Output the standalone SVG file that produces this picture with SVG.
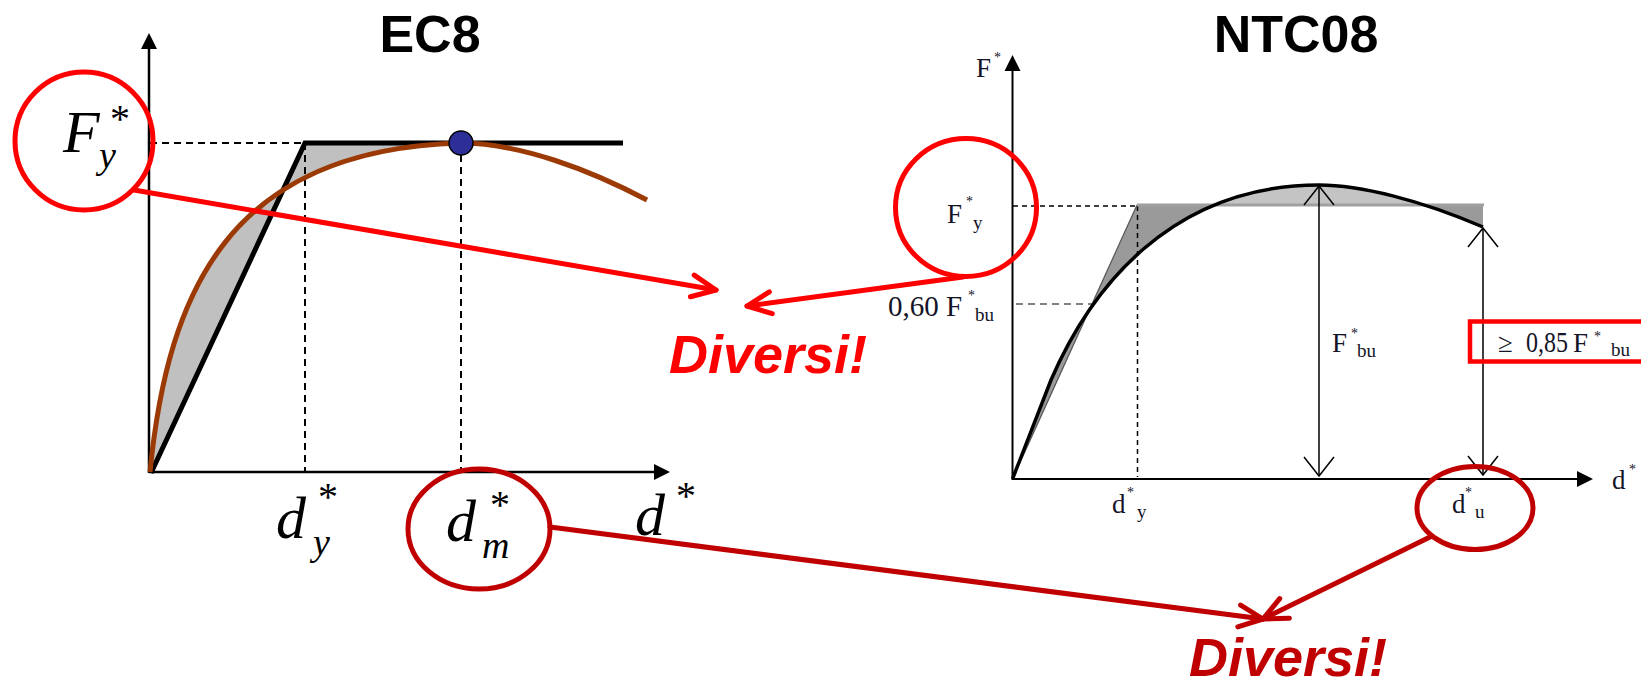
<svg xmlns="http://www.w3.org/2000/svg" width="1641" height="683" viewBox="0 0 1641 683">
<defs>
<style>
.title{font-family:"Liberation Sans",Arial,sans-serif;font-weight:bold;font-size:52px;fill:#000;text-anchor:middle}
.div{font-family:"Liberation Sans",Arial,sans-serif;font-weight:bold;font-style:italic;font-size:54px;text-anchor:middle}
.it{font-family:"Liberation Serif","Times New Roman",serif;font-style:italic;fill:#000}
.big{font-size:60px}
.sub{font-size:38px}
.st{font-family:"Liberation Serif","Times New Roman",serif;font-size:40px;fill:#000}
.ser{font-family:"Liberation Serif","Times New Roman",serif;fill:#141428}
.n{font-size:27px}
.nn{font-size:29px}
.s{font-size:19px}
.ss{font-size:14px}
.ax1{stroke:#000;stroke-width:2.5;fill:none}
.ax2{stroke:#000;stroke-width:2;fill:none}
.dash1{stroke:#000;stroke-width:2;stroke-dasharray:7 5;fill:none}
.dash2{stroke:#000;stroke-width:1.5;stroke-dasharray:5 4;fill:none}
.red{stroke:#ff0000;stroke-width:5;fill:none}
.dred{stroke:#c00000;stroke-width:5;fill:none}
.dim{stroke:#000;stroke-width:1.5;fill:none}
</style>
<marker id="tri" markerUnits="userSpaceOnUse" viewBox="-8 -10 20 20" markerWidth="20" markerHeight="20" refX="0" refY="0" orient="auto" overflow="visible">
<path d="M-6,-8 L10,0 L-6,8 Z" fill="#000"/>
</marker>
<marker id="vee" markerUnits="userSpaceOnUse" viewBox="-22 -18 24 36" markerWidth="24" markerHeight="36" refX="0" refY="0" orient="auto-start-reverse" overflow="visible">
<path d="M-19,-15 L0,0 L-19,15" fill="none" stroke="#000" stroke-width="1.5"/>
</marker>
<marker id="ah-red" markerUnits="userSpaceOnUse" viewBox="-30 -15 34 30" markerWidth="34" markerHeight="30" refX="0" refY="0" orient="auto" overflow="visible">
<path d="M-24,-11 L0,0 L-24,11" fill="none" stroke="#ff0000" stroke-width="5" stroke-linecap="round" stroke-linejoin="round"/>
</marker>
<marker id="ah-dred" markerUnits="userSpaceOnUse" viewBox="-30 -15 34 30" markerWidth="34" markerHeight="30" refX="0" refY="0" orient="auto" overflow="visible">
<path d="M-24,-11 L0,0 L-24,11" fill="none" stroke="#c00000" stroke-width="5" stroke-linecap="round" stroke-linejoin="round"/>
</marker>
<clipPath id="abovePlateau"><rect x="1000" y="150" width="500" height="55"/></clipPath>
</defs>
<rect width="1641" height="683" fill="#fff"/>

<g id="ec8-chart">
<text class="title" x="430" y="52">EC8</text>
<path d="M150,472 C168,290 230,150 460,143 L305,143 Z" fill="#c0c0c0"/>
<line class="dash1" x1="150" y1="143" x2="305" y2="143"/>
<line class="dash1" x1="305" y1="143" x2="305" y2="472"/>
<line class="dash1" x1="461" y1="143" x2="461" y2="472"/>
<line class="ax1" x1="149" y1="473" x2="149" y2="43" marker-end="url(#tri)"/>
<line class="ax1" x1="149" y1="472" x2="660" y2="472" marker-end="url(#tri)"/>
<path d="M151,473 L305,143 L623,143" fill="none" stroke="#000" stroke-width="5"/>
<path d="M150,472 C168,290 230,150 460,143 C520,143 590,170 647,200" fill="none" stroke="#9c3a06" stroke-width="5"/>
<circle cx="461" cy="143" r="12" fill="#2e2e99" stroke="#000" stroke-width="1.5"/>
<text class="it big" x="276" y="538">d</text><text class="st" x="318" y="510">*</text><text class="it sub" x="313" y="555">y</text>
<text class="it big" x="635" y="535">d</text><text class="st" x="676" y="509">*</text>
</g>

<g id="ntc08-chart">
<text class="title" x="1296" y="52">NTC08</text>
<path d="M1012.5,479 L1051,380 C1090,290 1170,185 1319,185 C1360,185 1420,200 1483,227 L1483,205 L1137,205 Z" fill="#9a9a9a"/>
<path d="M1012.5,479 L1051,380 C1090,290 1170,185 1319,185 C1360,185 1420,200 1483,227 L1483,205 L1137,205 Z" fill="#c4c4c4" clip-path="url(#abovePlateau)"/>
<line class="dash2" x1="1013" y1="206" x2="1137" y2="206"/>
<line class="dash2" x1="1137.5" y1="206" x2="1137.5" y2="477"/>
<line x1="1016" y1="304" x2="1092" y2="304" stroke="#808080" stroke-width="2" stroke-dasharray="7 5"/>
<line x1="1012.5" y1="479" x2="1137" y2="205" stroke="#555" stroke-width="1.2"/>
<line x1="1137" y1="205" x2="1484" y2="205" stroke="#a0a0a0" stroke-width="3"/>
<line class="ax2" x1="1012.5" y1="480" x2="1012.5" y2="65" marker-end="url(#tri)"/>
<line class="ax2" x1="1012" y1="479" x2="1583" y2="479" marker-end="url(#tri)"/>
<path d="M1012.5,479 L1051,380 C1090,290 1170,185 1319,185 C1360,185 1420,200 1483,227" fill="none" stroke="#000" stroke-width="3.5"/>
<line class="dim" x1="1319" y1="186" x2="1319" y2="476" marker-start="url(#vee)" marker-end="url(#vee)"/>
<line class="dim" x1="1483" y1="228" x2="1483" y2="475" marker-start="url(#vee)" marker-end="url(#vee)"/>
<text class="ser n" x="976" y="77">F</text><text class="ser ss" x="994" y="62">*</text>
<text class="ser nn" x="888" y="316">0,60 F</text><text class="ser ss" x="968" y="300">*</text><text class="ser s" x="975" y="321">bu</text>
<text class="ser n" x="1332" y="352">F</text><text class="ser ss" x="1351" y="338">*</text><text class="ser s" x="1357" y="357">bu</text>
<text class="ser n" x="1498" y="352">≥</text><text class="ser nn" x="1526" y="352" textLength="42" lengthAdjust="spacingAndGlyphs">0,85</text><text class="ser n" x="1573" y="352">F</text><text class="ser ss" x="1594" y="341">*</text><text class="ser s" x="1611" y="356">bu</text>
<text class="ser n" x="1112" y="513">d</text><text class="ser ss" x="1127" y="497">*</text><text class="ser s" x="1137" y="518">y</text>
<text class="ser n" x="1612" y="489">d</text><text class="ser ss" x="1629" y="474">*</text>
</g>

<g id="node-fy-ec8">
<ellipse class="red" cx="84" cy="141" rx="69" ry="69"/>
<text class="it big" x="63" y="152">F</text><text class="st" x="110" y="132">*</text><text class="it sub" x="99" y="168">y</text>
</g>
<g id="node-dm-ec8">
<ellipse class="dred" cx="479" cy="529" rx="71" ry="60"/>
<text class="it big" x="446" y="541">d</text><text class="st" x="490" y="518">*</text><text class="it sub" x="482" y="558">m</text>
</g>
<g id="node-fy-ntc">
<ellipse class="red" cx="966" cy="207.5" rx="70.5" ry="69"/>
<text class="ser n" x="947" y="223">F</text><text class="ser ss" x="966" y="206">*</text><text class="ser s" x="973" y="229">y</text>
</g>
<g id="node-du-ntc">
<ellipse class="dred" cx="1475" cy="508" rx="58" ry="41.5" stroke-width="4"/>
<text class="ser n" x="1452" y="513">d</text><text class="ser ss" x="1465" y="497">*</text><text class="ser s" x="1475" y="518">u</text>
</g>
<g id="node-fbu-box">
<rect x="1470" y="321.5" width="200" height="40" fill="none" stroke="#ff0000" stroke-width="4.5"/>
</g>
<g id="node-diversi-1">
<text class="div" x="768" y="373" fill="#ff0000">Diversi!</text>
</g>
<g id="node-diversi-2">
<text class="div" x="1288" y="676" fill="#c00000">Diversi!</text>
</g>

<g id="connectors" stroke-linecap="round">
<line class="red" x1="134" y1="190" x2="716" y2="290" marker-end="url(#ah-red)"/>
<line class="red" x1="963" y1="277" x2="747" y2="306" marker-end="url(#ah-red)"/>
<line class="dred" x1="550" y1="527" x2="1263" y2="619" marker-end="url(#ah-dred)"/>
<line class="dred" x1="1430" y1="537" x2="1263" y2="619" marker-end="url(#ah-dred)"/>
</g>
</svg>
